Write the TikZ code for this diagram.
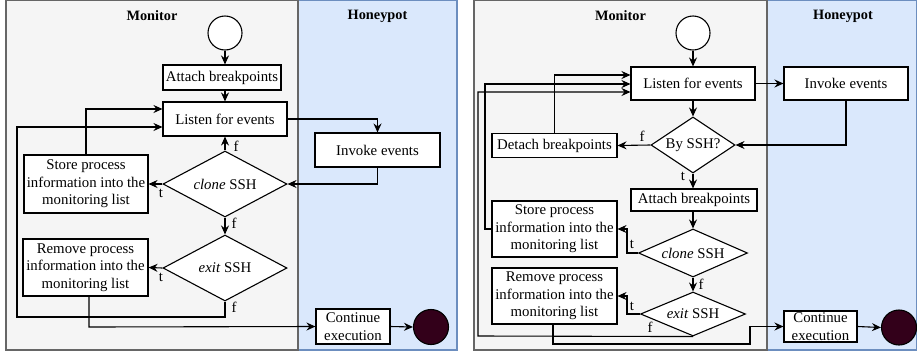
\documentclass[tikz,border=0pt]{standalone}
\usepackage{fontspec}
\setmainfont{Liberation Serif}
\usetikzlibrary{arrows.meta,shapes.geometric}

\definecolor{lanegray}{HTML}{F5F5F5}
\definecolor{laneedge}{HTML}{666666}
\definecolor{hpfill}{HTML}{DAE8FC}
\definecolor{hpedge}{HTML}{6C8EBF}
\definecolor{endfill}{HTML}{33001A}

\tikzset{
  txt/.style={font=\fontsize{14.8}{17.6}\selectfont},
  box/.style={draw, fill=white, line width=1.1pt, inner sep=1pt, align=center, txt},
  dia/.style={diamond, draw, fill=white, line width=1.1pt, inner sep=0pt},
  startc/.style={circle, draw, fill=white, line width=1.1pt, inner sep=0pt, minimum size=34pt},
  endc/.style={circle, draw, fill=endfill, line width=1.1pt, inner sep=0pt, minimum size=35pt},
  flow/.style={line width=1.1pt, -{Stealth[length=9pt,width=8pt,inset=3pt]}},
  lbl/.style={txt, inner sep=0pt},
  lanemon/.style={draw=laneedge, fill=lanegray, line width=1.1pt},
  lanehp/.style={draw=hpedge, fill=hpfill, line width=1.1pt},
  title/.style={font=\fontsize{14.3}{17}\selectfont\bfseries},
}

\begin{document}
\begin{tikzpicture}[x=1pt,y=-1pt]
\useasboundingbox (0,0) rectangle (917,354);

% ---------- swimlanes ----------
\draw[lanehp]  (298,0.5) rectangle (457,350);
\draw[lanemon] (6,0.5) rectangle (298,350);
\draw[lanehp]  (767,0.5) rectangle (916.5,350);
\draw[lanemon] (474,0.5) rectangle (767,350);
\node[title] (tm1) at (152,16) {Monitor};
\node[title] (th1) at (377.5,16) {Honeypot};
\node[title] (tm2) at (620.5,16) {Monitor};
\node[title] (th2) at (843,16) {Honeypot};

% ---------- first flow ----------
\node[startc] (s1) at (225,33) {};
\node[box, minimum width=118pt, minimum height=25pt] (att1) at (222,77.5) {Attach breakpoints};
\node[box, minimum width=124pt, minimum height=34pt] (lis1) at (225,119) {Listen for events};
\node[box, minimum width=125pt, minimum height=34pt] (inv1) at (377.5,150) {Invoke events};
\node[dia, minimum width=124pt, minimum height=66pt, label={[txt]center:\emph{clone} SSH}] (cl1) at (225,184) {};
\node[box, minimum width=124pt, minimum height=58pt] (st1) at (86,184) {Store process\\information into the\\monitoring list};
\node[dia, minimum width=124pt, minimum height=66pt, label={[txt]center:\emph{exit} SSH}] (ex1) at (225,268) {};
\node[box, minimum width=125pt, minimum height=57pt] (rm1) at (85.5,267.5) {Remove process\\information into the\\monitoring list};
\node[box, minimum width=74pt, minimum height=35pt, inner sep=0pt, txt] (co1) at (353,326.5) {Continue\\execution};
\node[endc] (e1) at (431,327) {};

\draw[flow] (s1.south) -- (s1.south |- att1.north);
\draw[flow] (att1.south -| lis1.north) -- (lis1.north);
\draw[flow] (lis1.east) -| (inv1.north);
\draw[flow] (inv1.south) |- (cl1.east);
\draw[flow] (cl1.north) -- (lis1.south);
\draw[flow] (cl1.west) -- (st1.east);
\draw[flow] (st1.north) |- (lis1.west |- 0,109);
\draw[flow] (cl1.south) -- (ex1.north);
\draw[flow] (ex1.west) -- (rm1.east);
\draw[flow] (ex1.south) -- (225,317) -- (17,317) -- (17,127) -- (lis1.west |- 0,127);
\draw[flow] (rm1.south -| 89,0) -- (89,327) -- (co1.west);
\draw[flow] (co1.east) -- (e1.west);

\node[lbl] (f1a) at (236,146) {f};
\node[lbl] (t1a) at (161,193) {t};
\node[lbl] (f1b) at (234,223) {f};
\node[lbl] (t1b) at (161,277) {t};
\node[lbl] (f1c) at (234,307) {f};

% ---------- second flow ----------
\node[startc] (s2) at (693,33) {};
\node[box, minimum width=124pt, minimum height=33pt] (lis2) at (693,83.5) {Listen for events};
\node[box, minimum width=124pt, minimum height=33pt] (inv2) at (846,83.5) {Invoke events};
\node[dia, minimum width=84pt, minimum height=56pt, label={[txt]center:By SSH?}] (by2) at (693,145) {};
\node[box, minimum width=125pt, minimum height=24pt] (de2) at (554.5,145.5) {Detach breakpoints};
\node[box, minimum width=126pt, minimum height=22pt] (att2) at (694,200) {Attach breakpoints};
\node[dia, minimum width=109pt, minimum height=48pt, label={[txt]center:\emph{clone} SSH}] (cl2) at (693,253) {};
\node[box, minimum width=125pt, minimum height=56pt] (st2) at (554.5,229) {Store process\\information into the\\monitoring list};
\node[dia, minimum width=105pt, minimum height=44pt, label={[txt]center:\emph{exit} SSH}] (ex2) at (693,314) {};
\node[box, minimum width=125pt, minimum height=56pt] (rm2) at (554.5,296) {Remove process\\information into the\\monitoring list};
\node[box, minimum width=73pt, minimum height=31pt, inner sep=0pt, txt] (co2) at (820.5,326.5) {Continue\\execution};
\node[endc] (e2) at (899,327.5) {};

\draw[flow] (s2.south) -- (lis2.north);
\draw[flow] (lis2.east) -- (inv2.west);
\draw[flow] (lis2.south) -- (by2.north);
\draw[flow] (inv2.south) |- (by2.east);
\draw[flow] (by2.west) -- (de2.east);
\draw[flow] (de2.north) |- (lis2.west |- 0,75);
\draw[flow] (by2.south) -- (by2.south |- att2.north);
\draw[flow] (att2.south -| cl2.north) -- (cl2.north);
\draw[flow] (cl2.west) -- (627,253) -- (627,229) -- (st2.east);
\draw[flow] (st2.west) -- (485,229) -- (485,84) -- (lis2.west |- 0,84);
\draw[flow] (cl2.south) -- (ex2.north);
\draw[flow] (ex2.west) -- (627,314) -- (627,296) -- (rm2.east);
\draw[flow] (ex2.south) -- (478,336) -- (478,92) -- (lis2.west |- 0,92);
\draw[flow] (rm2.south -| 553,0) -- (553,344) -- (750,344) -- (750,326.5) -- (co2.west);
\draw[flow] (co2.east) -- (e2.west);

\node[lbl] (f2a) at (642,136) {f};
\node[lbl] (t2a) at (683,176) {t};
\node[lbl] (t2b) at (632,244) {t};
\node[lbl] (f2b) at (701,284) {f};
\node[lbl] (t2c) at (632,306) {t};
\node[lbl] (f2c) at (650,327) {f};
\end{tikzpicture}
\end{document}
